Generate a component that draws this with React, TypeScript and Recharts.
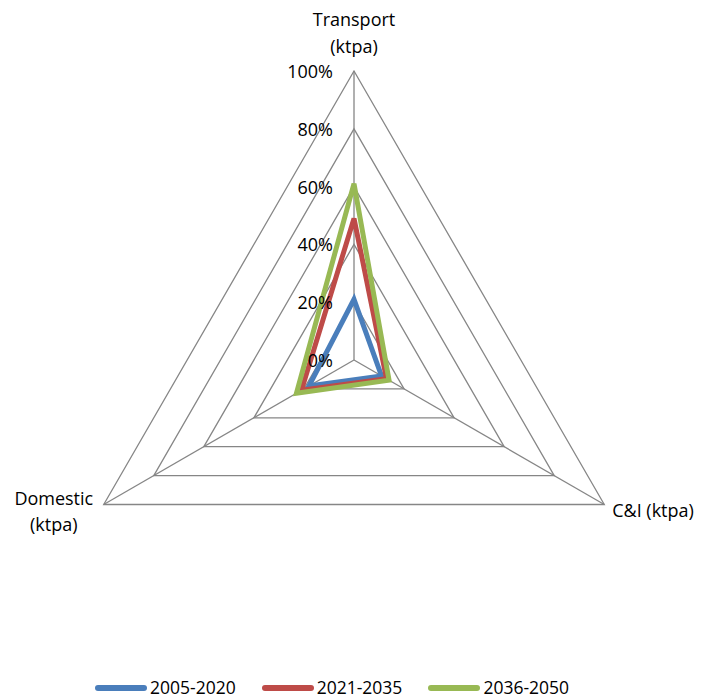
import { RadarChart, Radar, PolarGrid, PolarAngleAxis, PolarRadiusAxis, Legend } from "recharts";

const categories = ["Transport (ktpa)", "C&I (ktpa)", "Domestic (ktpa)"];
const values20052020 = [0.21, 0.11, 0.18];
const values20212035 = [0.49, 0.13, 0.21];
const values20362050 = [0.61, 0.14, 0.23];
const radiusTicks = [0, 0.2, 0.4, 0.6, 0.8, 1];

const seriesList = [
  { key: "p1", name: "2005-2020", color: "#4a7ebb", values: values20052020 },
  { key: "p2", name: "2021-2035", color: "#be4b48", values: values20212035 },
  { key: "p3", name: "2036-2050", color: "#98b954", values: values20362050 },
];

const data = categories.map((category, i) => {
  const row: Record<string, string | number> = { category };
  seriesList.forEach((s) => {
    row[s.key] = s.values[i];
  });
  return row;
});

const FONT = "'Open Sans', sans-serif";
const LABEL_SIZE = 18;

const AngleTick = (props: any) => {
  const { x, y, index } = props;
  if (index === 0) {
    return (
      <text x={x} y={y} textAnchor="middle" fontFamily={FONT} fontSize={LABEL_SIZE} fill="#000">
        <tspan x={x} dy={-37}>Transport</tspan>
        <tspan x={x} dy={27}>(ktpa)</tspan>
      </text>
    );
  }
  if (index === 1) {
    return (
      <text x={x + 1} y={y + 8} textAnchor="start" fontFamily={FONT} fontSize={LABEL_SIZE} fill="#000">
        C&amp;I (ktpa)
      </text>
    );
  }
  return (
    <text x={x - 43} y={y} textAnchor="middle" fontFamily={FONT} fontSize={LABEL_SIZE} fill="#000">
      <tspan x={x - 43} dy={-4}>Domestic</tspan>
      <tspan x={x - 43} dy={26}>(ktpa)</tspan>
    </text>
  );
};

const RadiusTick = (props: any) => {
  const { x, y, payload } = props;
  return (
    <text x={x - 21} y={y + 7} textAnchor="end" fontFamily={FONT} fontSize={LABEL_SIZE} fill="#000">
      {`${Math.round(payload.value * 100)}%`}
    </text>
  );
};

const renderLegend = () => (
  <div style={{ display: "flex", alignItems: "center", fontFamily: FONT, fontSize: 17.5, lineHeight: 1 }}>
    {seriesList.map((s, i) => (
      <div key={s.key} style={{ display: "flex", alignItems: "center", marginLeft: i === 0 ? 0 : 26 }}>
        <svg width={52} height={8}>
          <line x1={3} y1={4} x2={49} y2={4} stroke={s.color} strokeWidth={6} strokeLinecap="round" />
        </svg>
        <span style={{ marginLeft: 3, color: "#000" }}>{s.name}</span>
      </div>
    ))}
  </div>
);

export default function App() {
  return (
    <RadarChart
      width={694}
      height={690}
      data={data}
      cx={346}
      cy={352}
      outerRadius={289}
      margin={{ top: 0, right: 0, bottom: 0, left: 0 }}
    >
      <PolarGrid gridType="polygon" stroke="#868686" strokeWidth={1.3} />
      <PolarAngleAxis dataKey="category" axisLine={false} tickLine={false} tick={<AngleTick />} />
      <PolarRadiusAxis
        angle={90}
        domain={[0, 1]}
        ticks={radiusTicks}
        tickCount={6}
        axisLine={false}
        tickLine={false}
        tick={<RadiusTick />}
      />
      {seriesList.map((s) => (
        <Radar
          key={s.key}
          name={s.name}
          dataKey={s.key}
          stroke={s.color}
          strokeWidth={5}
          fill="none"
          fillOpacity={0}
          dot={false}
          isAnimationActive={false}
        />
      ))}
      <Legend
        layout="horizontal"
        verticalAlign="middle"
        align="center"
        content={renderLegend}
        wrapperStyle={{ top: 671, left: 87, width: "auto" }}
      />
    </RadarChart>
  );
}
